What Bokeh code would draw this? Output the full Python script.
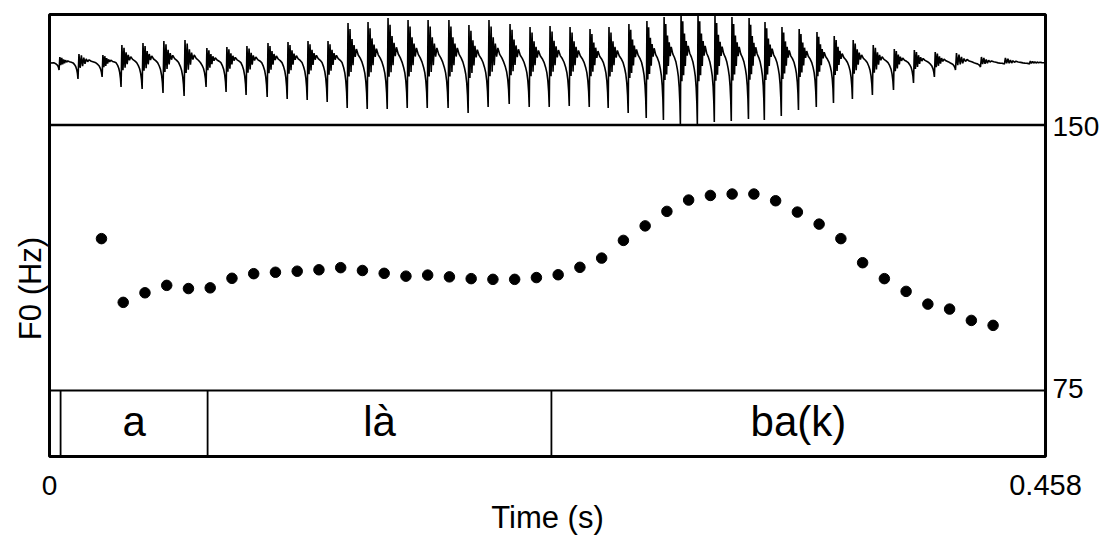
import math
from bokeh.plotting import figure
from bokeh.models import Range1d
from bokeh.core.properties import value
from bokeh.embed import file_html
from bokeh.resources import INLINE

# ---------------- data ----------------
time_min, time_max = 0.0, 0.458
f0_min_label, f0_max_label = 75, 150

# F0 track (s, Hz)
f0_time = [0.0239, 0.0339, 0.0439, 0.0539, 0.0639, 0.0739, 0.0839, 0.0939, 0.1039, 0.1139,
           0.1239, 0.1339, 0.1439, 0.1539, 0.1639, 0.1739, 0.1839, 0.1939, 0.2039, 0.2139,
           0.2239, 0.2339, 0.2439, 0.2539, 0.2639, 0.2739, 0.2839, 0.2939, 0.3039, 0.3139,
           0.3239, 0.3339, 0.3439, 0.3539, 0.3639, 0.3739, 0.3839, 0.3939, 0.4039, 0.4139,
           0.4239, 0.4339]
f0_hz = [117.9, 99.9, 102.6, 104.7, 103.8, 104.0, 106.7, 108.0, 108.4, 108.7,
         109.1, 109.7, 108.9, 108.1, 107.3, 107.6, 107.1, 106.6, 106.4, 106.4,
         106.9, 107.7, 109.8, 112.4, 117.4, 121.5, 125.6, 128.8, 130.1, 130.5,
         130.5, 128.6, 125.4, 122.0, 117.9, 111.1, 106.6, 103.0, 99.4, 98.0,
         94.8, 93.4]

# Waveform: glottal pulse times (s), peak heights and trough depths (relative amplitude)
pulse_time = [0.0044, 0.0131, 0.0242, 0.0329, 0.0426, 0.0522, 0.0619, 0.0720, 0.0812, 0.0904,
              0.1001, 0.1093, 0.1185, 0.1277, 0.1369, 0.1461, 0.1553, 0.1645, 0.1737, 0.1833,
              0.1925, 0.2017, 0.2114, 0.2206, 0.2298, 0.2390, 0.2482, 0.2569, 0.2661, 0.2744,
              0.2823, 0.2901, 0.2979, 0.3057, 0.3135, 0.3214, 0.3287, 0.3365, 0.3444, 0.3526,
              0.3605, 0.3692, 0.3784, 0.3881, 0.3973, 0.4069, 0.4166, 0.4281, 0.4391, 0.4506]
pulse_trough = [0.07, 0.16, 0.14, 0.24, 0.26, 0.30, 0.33, 0.24, 0.29, 0.32,
                0.34, 0.36, 0.37, 0.39, 0.45, 0.46, 0.46, 0.45, 0.45, 0.45,
                0.50, 0.44, 0.41, 0.44, 0.44, 0.43, 0.44, 0.45, 0.50, 0.55,
                0.57, 0.61, 0.61, 0.59, 0.58, 0.56, 0.57, 0.53, 0.47, 0.44,
                0.40, 0.36, 0.32, 0.27, 0.20, 0.14, 0.07, 0.04, 0.01, 0.01]
pulse_peak = [0.06, 0.09, 0.08, 0.18, 0.20, 0.22, 0.23, 0.15, 0.16, 0.17,
              0.20, 0.21, 0.22, 0.22, 0.40, 0.41, 0.45, 0.43, 0.43, 0.43,
              0.38, 0.43, 0.39, 0.36, 0.37, 0.36, 0.34, 0.36, 0.39, 0.42,
              0.46, 0.49, 0.49, 0.47, 0.46, 0.45, 0.41, 0.36, 0.34, 0.31,
              0.27, 0.23, 0.18, 0.14, 0.13, 0.11, 0.10, 0.06, 0.05, 0.02]
# one-period pulse shape (phase, relative value)
tmpl_phase = [0.0, 0.04, 0.09, 0.14, 0.19, 0.24, 0.29, 0.34, 0.40, 0.46, 0.55, 0.65, 0.74, 0.82, 0.88, 0.93, 0.97]
tmpl_value = [-1.0, 1.0, -0.3, 0.85, -0.2, 0.6, -0.05, 0.45, 0.15, 0.35, 0.2, 0.12, 0.02, -0.1, -0.22, -0.4, -0.65]

# TextGrid tier
tier_bounds = [0.0, 0.0051, 0.0727, 0.2308, 0.458]
tier_labels = ["", "a", "là", "ba(k)"]

# ---------------- build waveform ----------------
wave_t, wave_a = [0.0], [0.0]
n = len(pulse_time)
T0 = pulse_time[1] - pulse_time[0]
for ph, v in zip(tmpl_phase, tmpl_value):
    t = pulse_time[0] - (1 - ph) * T0
    if ph >= 0.74 and t > 0:
        wave_t.append(t)
        wave_a.append(v * pulse_trough[0])
for i in range(n):
    T = pulse_time[i + 1] - pulse_time[i] if i < n - 1 else 0.0105
    nxt = pulse_trough[i + 1] if i < n - 1 else 0.0
    for ph, v in zip(tmpl_phase, tmpl_value):
        t = pulse_time[i] + ph * T
        if t > time_max:
            break
        if v >= 0:
            a = v * pulse_peak[i]
        elif ph < 0.7:
            a = v * pulse_trough[i]
        else:
            a = v * nxt
        wave_t.append(t)
        wave_a.append(a)
wave_t.append(time_max)
wave_a.append(0.0)

# ---------------- figure (frame = whole canvas) ----------------
FONT = "Liberation Sans"
PX_PER_S = 2174.7
PX_PER_HZ = 3.54
X0, Y75 = 49.0, 390.0   # pixel of t=0 and of 75 Hz
W, H = 1111, 541

def hz_at(py):
    return f0_min_label + (Y75 - py) / PX_PER_HZ

def t_at(px):
    return (px - X0) / PX_PER_S

p = figure(width=W, height=H, x_range=Range1d(t_at(0), t_at(W)),
           y_range=Range1d(hz_at(H), hz_at(0)), x_axis_type=None, y_axis_type=None,
           output_backend="svg", toolbar_location=None, title=None,
           min_border=0, min_border_left=0, min_border_right=0,
           min_border_top=0, min_border_bottom=0)
p.outline_line_color = None
p.background_fill_color = "white"
p.border_fill_color = "white"

wave_zero_px = 62.5
p.extra_y_ranges = {"wave": Range1d((wave_zero_px - H) / 100.0, wave_zero_px / 100.0)}
p.line(wave_t, wave_a, y_range_name="wave", line_color="black", line_width=1.6)

box_top, box_bottom = hz_at(14), hz_at(456)

# panel separators
p.segment(x0=[time_min], y0=[f0_max_label], x1=[time_max], y1=[f0_max_label],
          line_color="black", line_width=2.5)
p.segment(x0=[time_min], y0=[f0_min_label], x1=[time_max], y1=[f0_min_label],
          line_color="black", line_width=1.8)

# F0 dots
p.scatter(f0_time, f0_hz, size=10.5, color="black")

# text helper: the svg output places the "alphabetic" anchor ~0.38 em above the baseline
def text_at(x, base_px, t, size, align="center", angle=0.0, baseline="alphabetic"):
    y_px = base_px - 0.38 * size if baseline == "alphabetic" else base_px
    p.text(x=[x] if not isinstance(x, list) else x,
           y=[hz_at(y_px)] * (len(x) if isinstance(x, list) else 1),
           text=[t] if not isinstance(t, list) else t,
           text_align=align, text_baseline=baseline, angle=angle,
           text_font=value(FONT), text_font_size=f"{size}px", text_color="black")

# tier boundaries and labels
inner = tier_bounds[1:-1]
p.segment(x0=inner, y0=[box_bottom] * len(inner), x1=inner, y1=[f0_min_label] * len(inner),
          line_color="black", line_width=1.8)
centers = [(tier_bounds[i] + tier_bounds[i + 1]) / 2 for i in range(len(tier_labels))]
text_at(centers, 437, tier_labels, 42)

# outer box
p.quad(left=[time_min], right=[time_max], top=[box_top], bottom=[box_bottom],
       fill_color=None, line_color="black", line_width=3)

# axis-like labels
text_at(t_at(1052), 137, str(f0_max_label), 28, align="left")
text_at(t_at(1052), 399, str(f0_min_label), 28, align="left")
text_at(time_min, 496, "0", 28)
text_at(time_max, 496, "0.458", 29)
text_at(t_at(547), 529, "Time (s)", 31)
text_at(t_at(30), 288, "F0 (Hz)", 31, angle=math.pi / 2, baseline="middle")

open("out.html", "w").write(file_html(p, INLINE))
